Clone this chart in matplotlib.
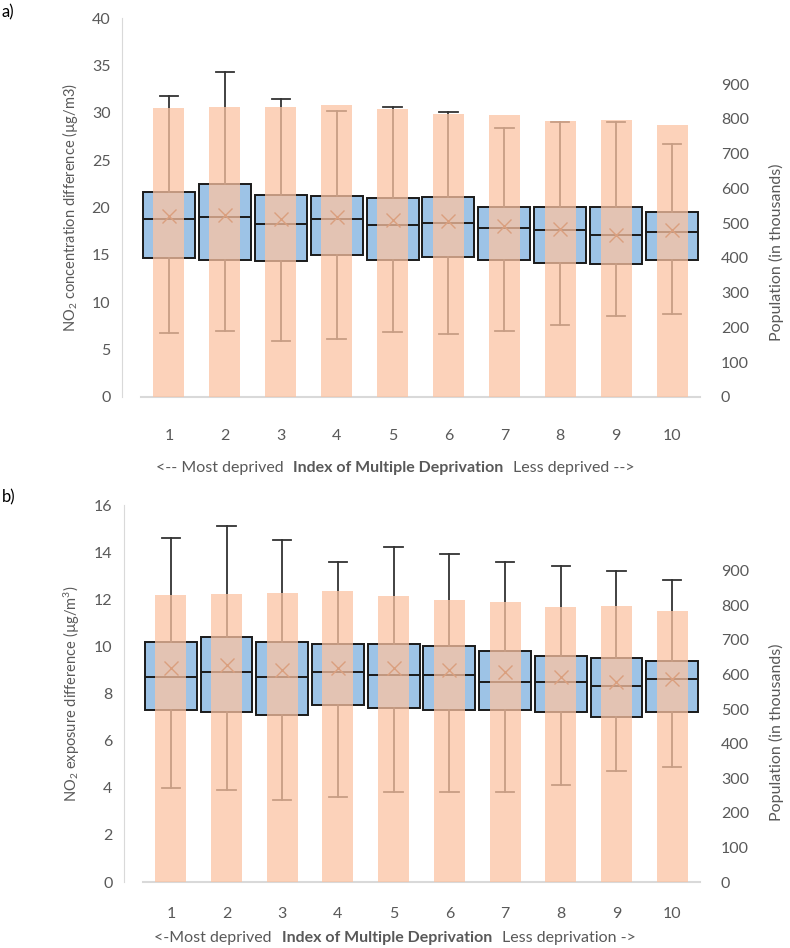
import matplotlib
matplotlib.use("Agg")
import matplotlib.pyplot as plt
from matplotlib.offsetbox import TextArea, HPacker, AnnotationBbox

plt.rcParams['font.family'] = ['Lato', 'DejaVu Sans']
plt.rcParams['mathtext.fontset'] = 'custom'
plt.rcParams['mathtext.rm'] = 'Lato'
plt.rcParams['mathtext.it'] = 'Lato:italic'
plt.rcParams['mathtext.bf'] = 'Lato:bold'

deciles = [1, 2, 3, 4, 5, 6, 7, 8, 9, 10]

# population per decile (thousands), right axis
population = [830, 834, 835, 841, 828, 815, 810, 795, 797, 783]

# panel a: NO2 concentration difference
a_min = [6.8, 7.0, 5.9, 6.1, 6.9, 6.7, 7.0, 7.6, 8.5, 8.8]
a_q1 = [14.7, 14.5, 14.4, 15.0, 14.5, 14.8, 14.5, 14.1, 14.0, 14.5]
a_med = [18.8, 19.0, 18.3, 18.8, 18.2, 18.4, 17.8, 17.6, 17.1, 17.4]
a_q3 = [21.6, 22.5, 21.3, 21.2, 21.0, 21.1, 20.1, 20.1, 20.1, 19.5]
a_max = [31.8, 34.3, 31.5, 30.2, 30.6, 30.1, 28.4, 29.0, 29.0, 26.7]
a_mean = [19.1, 19.2, 18.8, 19.0, 18.7, 18.6, 18.1, 17.7, 17.1, 17.6]

# panel b: NO2 exposure difference
b_min = [4.0, 3.9, 3.5, 3.6, 3.8, 3.8, 3.8, 4.1, 4.7, 4.9]
b_q1 = [7.3, 7.2, 7.1, 7.5, 7.4, 7.3, 7.3, 7.2, 7.0, 7.2]
b_med = [8.7, 8.9, 8.7, 8.9, 8.8, 8.8, 8.5, 8.5, 8.3, 8.6]
b_q3 = [10.2, 10.4, 10.2, 10.1, 10.1, 10.0, 9.8, 9.6, 9.5, 9.4]
b_max = [14.6, 15.1, 14.5, 13.6, 14.2, 13.9, 13.6, 13.4, 13.2, 12.8]
b_mean = [9.1, 9.2, 9.0, 9.1, 9.1, 9.0, 8.9, 8.7, 8.5, 8.6]

grey = '#595959'
light = '#D9D9D9'

fig = plt.figure(figsize=(7.9, 9.48), dpi=100)


def panel(rect, mins, q1, med, q3, maxs, means, ymax, ystep, ylabel,
          xpad, xlab_y, left_lab, right_lab, ylab_x, rlab_y):
    ax = fig.add_axes(rect)
    stats = []
    for i in range(len(deciles)):
        stats.append({'whislo': mins[i], 'q1': q1[i], 'med': med[i],
                      'q3': q3[i], 'whishi': maxs[i], 'mean': means[i],
                      'fliers': []})
    ax.bxp(stats, positions=deciles, widths=0.93, patch_artist=True,
           showmeans=True, manage_ticks=False,
           boxprops=dict(facecolor='#9DC3E6', edgecolor='#1a1a1a', linewidth=1.4),
           whiskerprops=dict(color='#333333', linewidth=1.3),
           capprops=dict(color='#333333', linewidth=1.3),
           capwidths=0.33,
           medianprops=dict(color='#1a1a1a', linewidth=1.4),
           meanprops=dict(marker='x', markersize=10, markeredgecolor='#7a3a1a',
                          markeredgewidth=1.0))
    ax.set_xlim(0.5, 10.5)
    ax.set_ylim(0, ymax)
    ax.set_yticks([ystep * k for k in range(int(ymax / ystep) + 1)])
    ax.set_xticks(deciles)
    ax.set_xticklabels([str(d) for d in deciles])
    for s in ['top', 'right']:
        ax.spines[s].set_visible(False)
    ax.spines['left'].set_position(('outward', 14))
    ax.spines['left'].set_color(light)
    ax.spines['left'].set_linewidth(0.8)
    ax.spines['bottom'].set_color(light)
    ax.spines['bottom'].set_linewidth(1.5)
    ax.tick_params(axis='y', length=0, pad=8, labelsize=11.5, labelcolor=grey)
    ax.tick_params(axis='x', length=0, pad=xpad, labelsize=11.5, labelcolor=grey)

    ax2 = ax.twinx()
    ax2.bar(deciles, population, width=0.555, color='#FCC3A2', alpha=0.74,
            linewidth=0)
    ax2.set_ylim(0, 1090)
    ax2.set_yticks(range(0, 1000, 100))
    for s in ax2.spines.values():
        s.set_visible(False)
    ax2.tick_params(axis='y', length=0, pad=15, labelsize=11.5, labelcolor=grey)
    ax2.set_xlim(0.5, 10.5)

    fig.text(ylab_x, rect[1] + rect[3] / 2, ylabel, rotation=90, ha='center',
             va='center', fontsize=10.5, color=grey)
    fig.text(776 / 790, rlab_y, 'Population (in thousands)', rotation=90,
             ha='center', va='center', fontsize=11.5, color=grey)

    parts = HPacker(children=[
        TextArea(left_lab, textprops=dict(color=grey, fontsize=11.5)),
        TextArea('Index of Multiple Deprivation',
                 textprops=dict(color=grey, fontsize=11.5, fontweight='bold')),
        TextArea(right_lab, textprops=dict(color=grey, fontsize=11.5)),
    ], pad=0, sep=7, align='baseline')
    ab = AnnotationBbox(parts, (0.5, xlab_y), xycoords='figure fraction',
                        box_alignment=(0.5, 0.5), frameon=False)
    fig.add_artist(ab)
    return ax


panel([141 / 790, (948 - 397) / 948, 559 / 790, 379 / 948],
      a_min, a_q1, a_med, a_q3, a_max, a_mean, 40, 5,
      'NO$_2$ concentration difference (µg/m3)', 23,
      (948 - 468) / 948, '<-- Most deprived', 'Less deprived -->',
      70 / 790, (948 - 252) / 948)

panel([143 / 790, (948 - 882) / 948, 557 / 790, 377 / 948],
      b_min, b_q1, b_med, b_q3, b_max, b_mean, 16, 2,
      'NO$_2$ exposure difference (µg/m$^3$)', 18,
      (948 - 938) / 948, '<-Most deprived', 'Less deprivation ->',
      72 / 790, (948 - 732) / 948)

fig.text(2 / 790, (948 - 12) / 948, 'a)', fontsize=12, va='center', ha='left')
fig.text(2 / 790, (948 - 497) / 948, 'b)', fontsize=12, va='center', ha='left')

fig.savefig('out.png', dpi=100)
